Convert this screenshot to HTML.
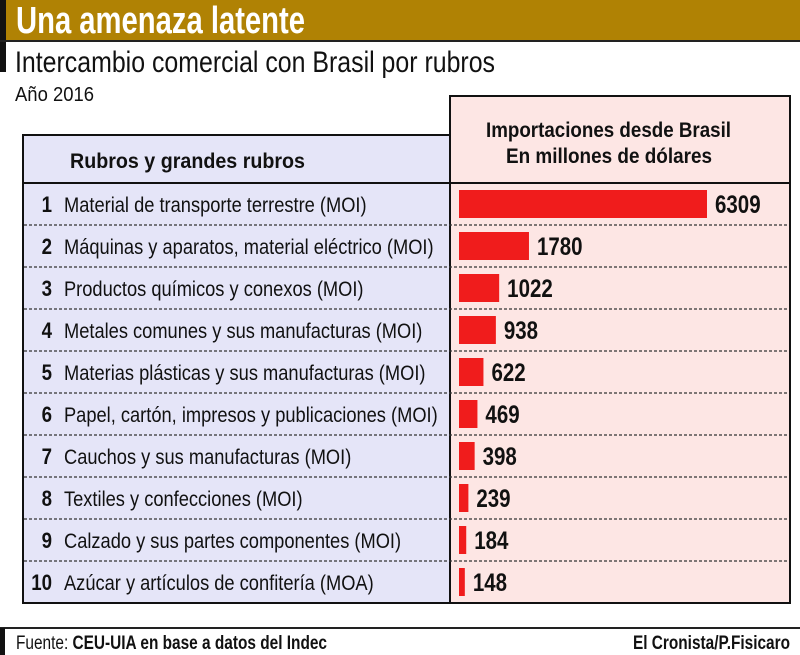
<!DOCTYPE html>
<html><head><meta charset="utf-8"><style>
body{margin:0;width:800px;height:655px;background:#fff;overflow:hidden;font-family:"Liberation Sans",sans-serif}
svg{display:block}
</style></head><body>
<svg width="800" height="655" viewBox="0 0 800 655" font-family="'Liberation Sans',sans-serif">
<rect x="0" y="0" width="800" height="40" fill="#b08204"/>
<rect x="0" y="0" width="6" height="72" fill="#111"/>
<text x="16" y="33" font-size="38" fill="#fff" font-weight="bold" textLength="289" lengthAdjust="spacingAndGlyphs">Una amenaza latente</text>
<rect x="0" y="40" width="800" height="2" fill="#222"/>
<text x="15" y="72" font-size="30" fill="#111" textLength="480" lengthAdjust="spacingAndGlyphs">Intercambio comercial con Brasil por rubros</text>
<text x="15" y="101" font-size="20" fill="#111" textLength="79" lengthAdjust="spacingAndGlyphs">Año 2016</text>
<rect x="23" y="135" width="427" height="468" fill="#e5e5f8" stroke="#111" stroke-width="2"/>
<rect x="450" y="96" width="340" height="507" fill="#fde6e4" stroke="#111" stroke-width="2"/>
<line x1="23" y1="183" x2="790" y2="183" stroke="#111" stroke-width="2"/>
<text x="70" y="168" font-size="21" font-weight="bold" fill="#111" textLength="235" lengthAdjust="spacingAndGlyphs">Rubros y grandes rubros</text>
<text x="486" y="137" font-size="21" font-weight="bold" fill="#111" textLength="245" lengthAdjust="spacingAndGlyphs">Importaciones desde Brasil</text>
<text x="506" y="163" font-size="21" font-weight="bold" fill="#111" textLength="206" lengthAdjust="spacingAndGlyphs">En millones de dólares</text>
<g id="rows"></g>
<line x1="0" y1="628" x2="800" y2="628" stroke="#222" stroke-width="2"/>
<rect x="0" y="628" width="5" height="27" fill="#111"/>
<text x="16" y="649" font-size="19" fill="#111" textLength="311" lengthAdjust="spacingAndGlyphs">Fuente: <tspan font-weight="bold">CEU-UIA en base a datos del Indec</tspan></text>
<text x="633" y="649" font-size="19" fill="#111" font-weight="bold" textLength="157" lengthAdjust="spacingAndGlyphs">El Cronista/P.Fisicaro</text>
</svg>
<script>
const categories=["Material de transporte terrestre (MOI)","Máquinas y aparatos, material eléctrico (MOI)","Productos químicos y conexos (MOI)","Metales comunes y sus manufacturas (MOI)","Materias plásticas y sus manufacturas (MOI)","Papel, cartón, impresos y publicaciones (MOI)","Cauchos y sus manufacturas (MOI)","Textiles y confecciones (MOI)","Calzado y sus partes componentes (MOI)","Azúcar y artículos de confitería (MOA)"];
const values=[6309,1780,1022,938,622,469,398,239,184,148];
const NS="http://www.w3.org/2000/svg";
const g=document.getElementById('rows');
const x0=459, xScale=v=>v*248/6309;
const rowTop=i=>183+i*42;
function mk(t,a){const e=document.createElementNS(NS,t);for(const k in a)e.setAttribute(k,a[k]);g.appendChild(e);return e;}
function squeeze(e,f){const w=e.getComputedTextLength();e.setAttribute('textLength',(w*f).toFixed(1));e.setAttribute('lengthAdjust','spacingAndGlyphs');}
categories.forEach((c,i)=>{
  const y=rowTop(i), cy=y+21;
  if(i>0){const l=mk('line',{x1:24,y1:y,x2:789,y2:y,stroke:'#333','stroke-width':1.2,'stroke-dasharray':'3,2'});
    
    }
  const n=mk('text',{x:52,y:cy+8,'font-size':22,'font-weight':'bold','text-anchor':'end',fill:'#111'});n.textContent=String(i+1);
  
  
  squeeze(n,0.85);
  const t=mk('text',{x:64,y:cy+8,'font-size':21,fill:'#111'});t.textContent=c;
  
  
  squeeze(t,0.87);
  const w=Math.max(4,xScale(values[i]));
  const b=mk('rect',{x:x0,y:cy-14,width:w,height:28,fill:'#f01c1c'});
  
  
  const v=mk('text',{x:x0+w+8,y:cy+9,'font-size':25,'font-weight':'bold',fill:'#111'});v.textContent=values[i];
  
  
  squeeze(v,0.82);
});
</script>
</body></html>
